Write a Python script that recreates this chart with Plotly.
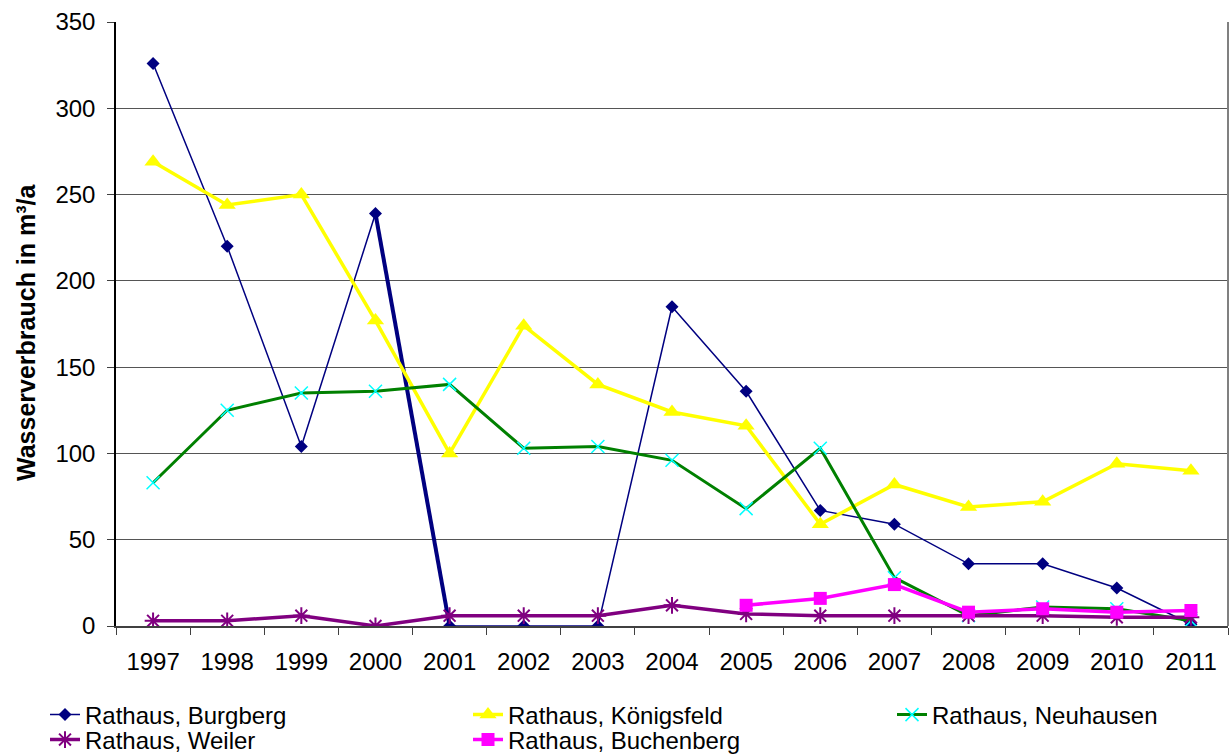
import plotly.graph_objects as go

# Jahre (Kategorien der x-Achse)
years = ["1997", "1998", "1999", "2000", "2001", "2002", "2003", "2004",
         "2005", "2006", "2007", "2008", "2009", "2010", "2011"]

# Wasserverbrauch der Rathäuser in m³/a
burgberg = [326, 220, 104, 239, 0, 0, 0, 185, 136, 67, 59, 36, 36, 22, 1]
koenigsfeld = [269, 244, 250, 177, 100, 174, 140, 124, 116, 59, 82, 69, 72, 94, 90]
neuhausen = [83, 125, 135, 136, 140, 103, 104, 96, 68, 103, 28, 6, 11, 10, 3]
weiler = [3, 3, 6, 0, 6, 6, 6, 12, 7, 6, 6, 6, 6, 5, 5]
buchenberg_years = ["2005", "2006", "2007", "2008", "2009", "2010", "2011"]
buchenberg = [12, 16, 24, 8, 10, 8, 9]

FONT = "Arial, Liberation Sans, sans-serif"

fig = go.Figure()

fig.add_trace(go.Scatter(
    x=years, y=burgberg, name="Rathaus, Burgberg", mode="lines+markers",
    line=dict(color="#000080", width=1.5),
    marker=dict(symbol="diamond", size=10, color="#000080"),
    legend="legend",
))
# Hervorgehobenes Segment 2000–2001
fig.add_trace(go.Scatter(
    x=years[3:5], y=burgberg[3:5], mode="lines", showlegend=False,
    line=dict(color="#000080", width=4), hoverinfo="skip",
))
fig.add_trace(go.Scatter(
    x=years, y=koenigsfeld, name="Rathaus, Königsfeld", mode="lines+markers",
    line=dict(color="#FFFF00", width=3.5),
    marker=dict(symbol="triangle-up", size=15, color="#FFFF00"),
    legend="legend",
))
fig.add_trace(go.Scatter(
    x=years, y=neuhausen, name="Rathaus, Neuhausen", mode="lines+markers",
    line=dict(color="#008000", width=3),
    marker=dict(symbol="x-thin", size=13, color="#00FFFF",
                line=dict(color="#00FFFF", width=1.5)),
    legend="legend3",
))
fig.add_trace(go.Scatter(
    x=years, y=weiler, name="Rathaus, Weiler", mode="lines+markers",
    line=dict(color="#800080", width=3.5),
    marker=dict(symbol="asterisk-open", size=14, color="#800080",
                line=dict(color="#800080", width=2)),
    legend="legend2",
))
fig.add_trace(go.Scatter(
    x=buchenberg_years, y=buchenberg, name="Rathaus, Buchenberg", mode="lines+markers",
    line=dict(color="#FF00FF", width=3.5),
    marker=dict(symbol="square", size=13, color="#FF00FF"),
    legend="legend2",
))

legend_common = dict(
    orientation="h", xref="container", yref="container",
    xanchor="left", yanchor="middle", entrywidth=378,
    font=dict(size=24, family=FONT), bgcolor="rgba(0,0,0,0)",
)

fig.update_layout(
    width=1231, height=755,
    margin=dict(l=116, r=3, t=22, b=129),
    paper_bgcolor="white", plot_bgcolor="white",
    font=dict(family=FONT, size=24, color="black"),
    showlegend=True,
    legend=dict(legend_common, x=45 / 1231, y=1 - 715 / 755),
    legend3=dict(legend_common, x=892 / 1231, y=1 - 715 / 755),
    legend2=dict(legend_common, x=45 / 1231, y=1 - 740 / 755),
    shapes=[dict(type="line", xref="paper", yref="paper", x0=1, x1=1, y0=0, y1=1,
                 line=dict(color="#808080", width=2))],
    annotations=[dict(
        text="<b>Wasserverbrauch in m³/a</b>", textangle=-90,
        xref="paper", yref="paper", x=(26 - 116) / 1112, y=(626 - 332) / 604,
        xanchor="center", yanchor="middle", showarrow=False,
        font=dict(size=25, family=FONT, color="black"),
    )],
)

fig.update_xaxes(
    type="category", categoryorder="array", categoryarray=years,
    range=[-0.5, 14.5], tickson="boundaries", ticks="outside", ticklen=7,
    tickcolor="#404040", showline=True, linecolor="#404040", linewidth=1.5,
    showgrid=False, zeroline=False, tickfont=dict(size=24), ticklabelstandoff=13,
)
fig.update_yaxes(
    range=[0, 350], dtick=50, ticks="outside", ticklen=7, tickcolor="#404040",
    showline=True, linecolor="black", linewidth=1.5,
    showgrid=True, gridcolor="#555555", gridwidth=1, zeroline=False,
    tickfont=dict(size=24), ticklabelstandoff=7,
)

fig.write_html("out.html")
